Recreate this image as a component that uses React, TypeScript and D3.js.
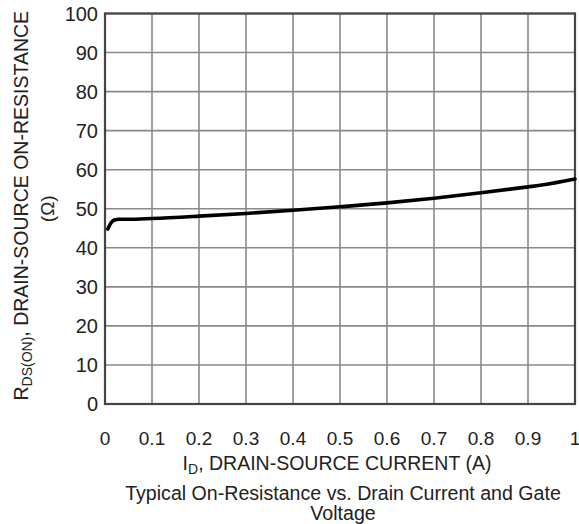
import React from "react";
import * as d3 from "d3";

const xTicks = [0, 0.1, 0.2, 0.3, 0.4, 0.5, 0.6, 0.7, 0.8, 0.9, 1];
const yTicks = [0, 10, 20, 30, 40, 50, 60, 70, 80, 90, 100];
const xTickLabels = ["0", "0.1", "0.2", "0.3", "0.4", "0.5", "0.6", "0.7", "0.8", "0.9", "1"];
const curveX = [0.006, 0.01, 0.015, 0.02, 0.03, 0.05, 0.1, 0.2, 0.3, 0.4, 0.5, 0.6, 0.7, 0.8, 0.9, 0.926, 1.0];
const curveY = [44.8, 45.8, 46.7, 47.1, 47.3, 47.3, 47.5, 48.1, 48.8, 49.6, 50.5, 51.5, 52.7, 54.1, 55.6, 56.0, 57.6];

const W = 579;
const H = 524;
const m = { left: 105, right: 575, top: 13.5, bottom: 404 };

export default function App() {
  const x = d3.scaleLinear().domain([0, 1]).range([m.left, m.right]);
  const y = d3.scaleLinear().domain([0, 100]).range([m.bottom, m.top]);
  const pts: [number, number][] = curveX.map((v, i) => [v, curveY[i]]);
  const line = d3
    .line<[number, number]>()
    .x((d) => x(d[0]))
    .y((d) => y(d[1]))
    .curve(d3.curveMonotoneX);
  const font = "'Liberation Sans', Arial, sans-serif";
  const cy = (m.top + m.bottom) / 2;
  return (
    <svg
      width={W}
      height={H}
      style={{ position: "absolute", left: 0, top: 0, background: "#fff" }}
      fontFamily={font}
    >
      {xTicks.map((t) => (
        <line key={"gx" + t} x1={x(t)} x2={x(t)} y1={m.top} y2={m.bottom} stroke="#8a8a8a" strokeWidth={1.6} />
      ))}
      {yTicks.map((t) => (
        <line key={"gy" + t} x1={m.left} x2={m.right} y1={y(t)} y2={y(t)} stroke="#8a8a8a" strokeWidth={1.6} />
      ))}
      <rect x={m.left} y={m.top} width={m.right - m.left} height={m.bottom - m.top} fill="none" stroke="#444" strokeWidth={2.2} />
      <path d={line(pts) || ""} fill="none" stroke="#000" strokeWidth={3.6} strokeLinecap="round" />
      {yTicks.map((t) => (
        <text key={"ty" + t} x={98} y={y(t)} dy="0.36em" textAnchor="end" fontSize={20} fill="#222">
          {t}
        </text>
      ))}
      {xTicks.map((t, i) => (
        <text key={"tx" + t} x={x(t)} y={445} textAnchor="middle" fontSize={19} fill="#222">
          {xTickLabels[i]}
        </text>
      ))}
      <text x={337} y={470} textAnchor="middle" fontSize={19.5} fill="#222">
        I<tspan fontSize={14} dy={4}>D</tspan>
        <tspan dy={-4}>, DRAIN-SOURCE CURRENT (A)</tspan>
      </text>
      <text x={343} y={500} textAnchor="middle" fontSize={19.6} fill="#222">
        Typical On-Resistance vs. Drain Current and Gate
      </text>
      <text x={343} y={520} textAnchor="middle" fontSize={19.6} fill="#222">
        Voltage
      </text>
      <g transform={`translate(28, ${cy - 3}) rotate(-90)`}>
        <text x={0} y={0} textAnchor="middle" fontSize={19.5} fill="#222">
          R<tspan fontSize={14} dy={4}>DS(ON)</tspan>
          <tspan dy={-4}>, DRAIN-SOURCE ON-RESISTANCE</tspan>
        </text>
      </g>
      <g transform={`translate(54, ${cy}) rotate(-90)`}>
        <text x={0} y={0} textAnchor="middle" fontSize={19} fill="#222">
          (Ω)
        </text>
      </g>
    </svg>
  );
}
